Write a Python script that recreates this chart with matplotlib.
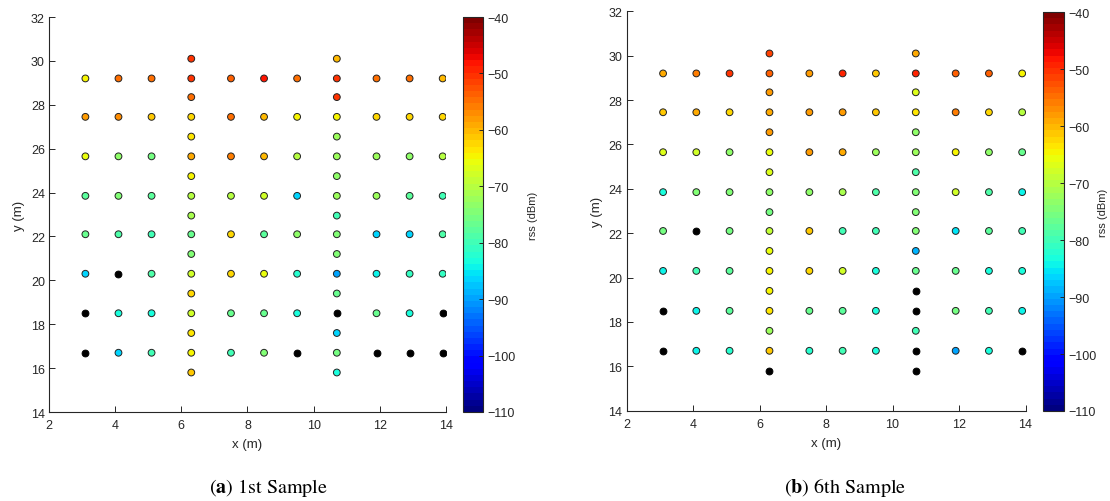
import numpy as np
import matplotlib.pyplot as plt
from matplotlib.colors import Normalize

plt.rcParams['font.family'] = ['Liberation Sans', 'DejaVu Sans']
plt.rcParams['mathtext.fontset'] = 'stix'

nan = np.nan

# measurement grid (m)
cols = [3.1, 4.1, 5.1, 6.3, 7.5, 8.5, 9.5, 10.7, 11.9, 12.9, 13.9]
rows = [16.7, 18.5, 20.3, 22.1, 23.85, 25.65, 27.45, 29.2]
# extra points along the two corridors
hall_x = [6.3, 10.7]
hall_y = [15.8, 17.6, 19.4, 21.2, 22.95, 24.75, 26.55, 28.35, 30.1]

# rss (dBm), one list per row of `rows`, nan = no reading (black dot)
rss_1st = [
    [nan, -86, -80, -65, -80, -75, nan, -76, nan, nan, nan],
    [nan, -83, -83, -68, -77, -77, -83, nan, -77, -83, nan],
    [-86, nan, -79, -68, -62, -66, -82, -90, -84, -81, -81],
    [-77, -79, -80, -77, -62, -78, -73, -75, -86, -86, -79],
    [-78, -75, -78, -70, -70, -68, -87, -72, -72, -78, -80],
    [-66, -73, -76, -59, -56, -60, -70, -72, -72, -73, -70],
    [-58, -57, -61, -62, -55, -60, -65, -65, -62, -62, -62],
    [-65, -55, -55, -50, -54, -48, -55, -50, -55, -55, -60],
]
hall_1st = [
    [-61, -64, -62, -74, -71, -65, -63, -55, -50],
    [-83, -86, -77, -74, -80, -73, -72, -50, -60],
]

rss_6th = [
    [nan, -84, -82, -61, -82, -80, -83, nan, -90, -83, nan],
    [nan, -84, -78, -64, -77, -78, -83, nan, -76, -80, -84],
    [-84, -80, -78, -65, -62, -68, -83, -77, -77, -83, -83],
    [-76, nan, -76, -69, -61, -80, -80, -74, -85, -78, -80],
    [-83, -74, -75, -73, -73, -71, -79, -74, -68, -79, -84],
    [-67, -68, -73, -66, -58, -59, -72, -72, -65, -73, -77],
    [-61, -59, -62, -59, -58, -58, -61, -64, -56, -62, -70],
    [-59, -56, -50, -54, -58, -49, -61, -49, -54, -54, -65],
]
hall_6th = [
    [nan, -72, -65, -66, -76, -67, -58, -58, -52],
    [nan, -80, nan, -89, -74, -79, -73, -67, -59],
]

W, H = 1110, 502
fig = plt.figure(figsize=(W / 100, H / 100), dpi=100)

cmap = plt.get_cmap('jet', 64)
norm = Normalize(vmin=-110, vmax=-40)
grey = '#262626'


def px_axes(l, t, r, b):
    return fig.add_axes([l / W, 1 - b / H, (r - l) / W, (b - t) / H])


def panel(grid, hall, box, cbox, caption, cap_x, cb_pad):
    ax = px_axes(*box)
    gx, gy = np.meshgrid(cols, rows)
    hx = np.repeat(hall_x, len(hall_y))
    hy = np.tile(hall_y, len(hall_x))
    x = np.concatenate([gx.ravel(), hx])
    y = np.concatenate([gy.ravel(), hy])
    v = np.concatenate([np.array(grid, float).ravel(), np.array(hall, float).ravel()])
    miss = np.isnan(v)

    sc = ax.scatter(x[~miss], y[~miss], c=v[~miss], cmap=cmap, norm=norm,
                    s=24, edgecolors='#222222', linewidths=0.7, zorder=3)
    ax.scatter(x[miss], y[miss], c='black', s=24, edgecolors='black',
               linewidths=0.7, zorder=3)

    ax.set_xlim(2, 14)
    ax.set_ylim(14, 32)
    ax.set_xticks(range(2, 15, 2))
    ax.set_yticks(range(14, 33, 2))
    ax.spines['top'].set_visible(False)
    ax.spines['right'].set_visible(False)
    for s in ('left', 'bottom'):
        ax.spines[s].set_color(grey)
        ax.spines[s].set_linewidth(0.8)
    ax.tick_params(direction='in', length=4, width=0.7, colors=grey,
                   labelsize=9, pad=3)
    ax.tick_params(axis='x', pad=5)
    ax.set_xlabel('x (m)', fontsize=9.5, color=grey, labelpad=5)
    ax.set_ylabel('y (m)', fontsize=9.5, color=grey, labelpad=4)

    cax = px_axes(*cbox)
    cb = fig.colorbar(sc, cax=cax)
    cb.set_ticks(range(-110, -39, 10))
    cb.outline.set_edgecolor(grey)
    cb.outline.set_linewidth(0.8)
    cax.tick_params(direction='in', length=3, width=0.7, colors=grey,
                    labelsize=9, pad=3)
    cb.set_label('rss (dBm)', fontsize=8, color=grey, labelpad=cb_pad)

    fig.text(cap_x / W, 1 - 488 / H, caption, ha='center', va='center',
             fontsize=14.5, family='STIXGeneral')


panel(rss_1st, hall_1st, (49, 18, 446, 413), (463, 18, 483, 413),
      r'($\mathbf{a}$) 1st Sample', 268, 9)
panel(rss_6th, hall_6th, (626.5, 12.3, 1025.5, 411.7), (1043, 13, 1064, 412),
      r'($\mathbf{b}$) 6th Sample', 845, 1)

fig.savefig('out.png', dpi=100)
